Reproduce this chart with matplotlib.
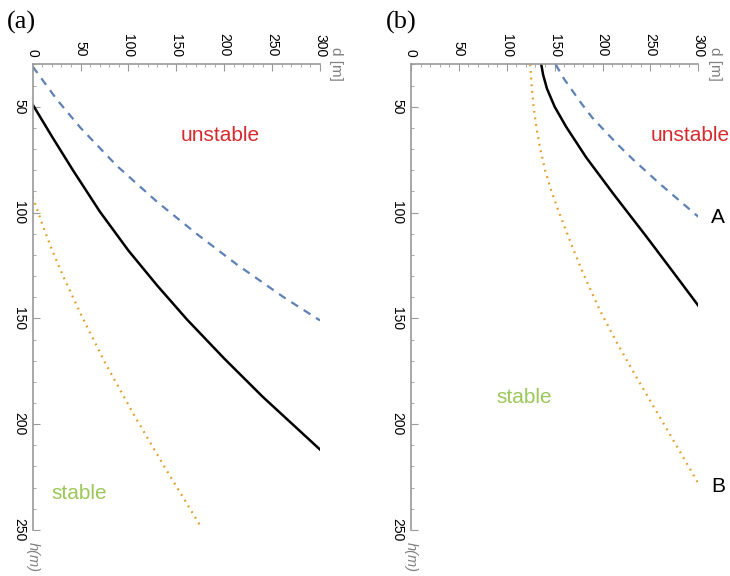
import matplotlib.pyplot as plt

plt.rcParams['font.family'] = ['Liberation Sans', 'DejaVu Sans']

# panel (a) curves, d [m] vs h (m)
a_dash_d = [0, 25, 50, 88, 130, 171, 213, 262, 300]
a_dash_h = [31, 46.5, 60, 78, 95, 110, 124.5, 140, 151]
a_solid_d = [0, 20, 42, 70, 100, 130, 161, 200, 240, 270, 300]
a_solid_h = [49, 64, 80, 99.5, 118, 134.5, 150.5, 169, 187, 199.5, 212]
a_dot_d = [0, 10, 20, 32, 50, 75, 105, 136, 175]
a_dot_h = [92.5, 105.5, 117.5, 130.3, 147.8, 170.5, 195, 219, 248]

# panel (b) curves
b_dash_d = [151, 160, 178, 189, 215, 232, 260, 300]
b_dash_h = [30, 37, 48.5, 55, 67.5, 75, 86.5, 102]
b_solid_d = [136, 138, 142, 150, 162, 183, 211, 246, 276, 300]
b_solid_h = [30, 35, 41.5, 50, 59.5, 74, 91, 111.5, 129.5, 144]
b_dot_d = [124.5, 126, 128, 131, 135, 140, 146, 153, 161, 170, 180, 197, 215, 235, 255, 277, 300]
b_dot_h = [30, 40, 50, 60, 70, 80, 89, 98, 107.5, 118, 129, 146, 161.5, 177.5, 193, 210, 228]

x_major = [0, 50, 100, 150, 200, 250, 300]
x_minor = list(range(0, 301, 10))
y_major = [50, 100, 150, 200, 250]
y_minor = list(range(30, 251, 10))

BLUE = '#5E81B5'
ORANGE = '#E19C24'
RED = '#D62A2E'
GREEN = '#9BC75B'
GRAY = '#999999'

fig = plt.figure(figsize=(7.3, 5.76), dpi=100)
ax_a = fig.add_axes([0.0448, 0.0799, 0.3936, 0.8083])
ax_b = fig.add_axes([0.5630, 0.0799, 0.3936, 0.8083])


def setup(ax):
    ax.set_xlim(0, 300)
    ax.set_ylim(250, 30)
    ax.xaxis.tick_top()
    ax.spines['right'].set_visible(False)
    ax.spines['bottom'].set_visible(False)
    for s in ('top', 'left'):
        ax.spines[s].set_color(GRAY)
        ax.spines[s].set_linewidth(1.2)
    ax.set_xticks(x_major)
    ax.set_xticks(x_minor, minor=True)
    ax.set_yticks(y_major)
    ax.set_yticks(y_minor, minor=True)
    ax.set_xticklabels([str(v) for v in x_major], rotation=-90, fontsize=10)
    ax.set_yticklabels([str(v) for v in y_major], rotation=-90, fontsize=10, va='center')
    ax.tick_params(which='both', direction='in', color=GRAY, labelcolor='black')
    ax.tick_params(which='major', length=5, width=0.8)
    ax.tick_params(which='minor', length=2.5, width=0.6)
    ax.tick_params(axis='x', pad=5.5)
    ax.tick_params(axis='y', pad=4.8)
    ax.text(317, 30, 'd [m]', rotation=-90, ha='center', va='center',
            color='#808080', fontsize=11)
    ax.text(0, 263, 'h(m)', rotation=-90, ha='center', va='center',
            color='#808080', fontsize=10.5, style='italic')


def curves(ax, dash_d, dash_h, solid_d, solid_h, dot_d, dot_h):
    ax.plot(dash_d, dash_h, color=BLUE, lw=1.6, ls=(0, (3.6, 3)))
    ax.plot(solid_d, solid_h, color='black', lw=1.8, solid_joinstyle='round')
    ax.plot(dot_d, dot_h, color=ORANGE, lw=1.6, ls=(0, (0.8, 2.2)))


setup(ax_a)
curves(ax_a, a_dash_d, a_dash_h, a_solid_d, a_solid_h, a_dot_d, a_dot_h)
ax_a.text(196, 66, 'unstable', color=RED, fontsize=15, ha='center', va='baseline')
ax_a.text(48.8, 235.5, 'stable', color=GREEN, fontsize=15, ha='center', va='baseline')

setup(ax_b)
curves(ax_b, b_dash_d, b_dash_h, b_solid_d, b_solid_h, b_dot_d, b_dot_h)
ax_b.text(291, 66, 'unstable', color=RED, fontsize=15, ha='center', va='baseline')
ax_b.text(118.7, 190, 'stable', color=GREEN, fontsize=15, ha='center', va='baseline')
ax_b.text(320.5, 105, 'A', color='black', fontsize=15, ha='center', va='baseline')
ax_b.text(320.5, 232, 'B', color='black', fontsize=15, ha='center', va='baseline')

fig.text(6.7 / 730, 1 - 22.5 / 576, '(a)', family='Liberation Serif', fontsize=19,
         ha='left', va='center')
fig.text(386 / 730, 1 - 22.5 / 576, '(b)', family='Liberation Serif', fontsize=19,
         ha='left', va='center')

fig.savefig('out.png', dpi=100)
